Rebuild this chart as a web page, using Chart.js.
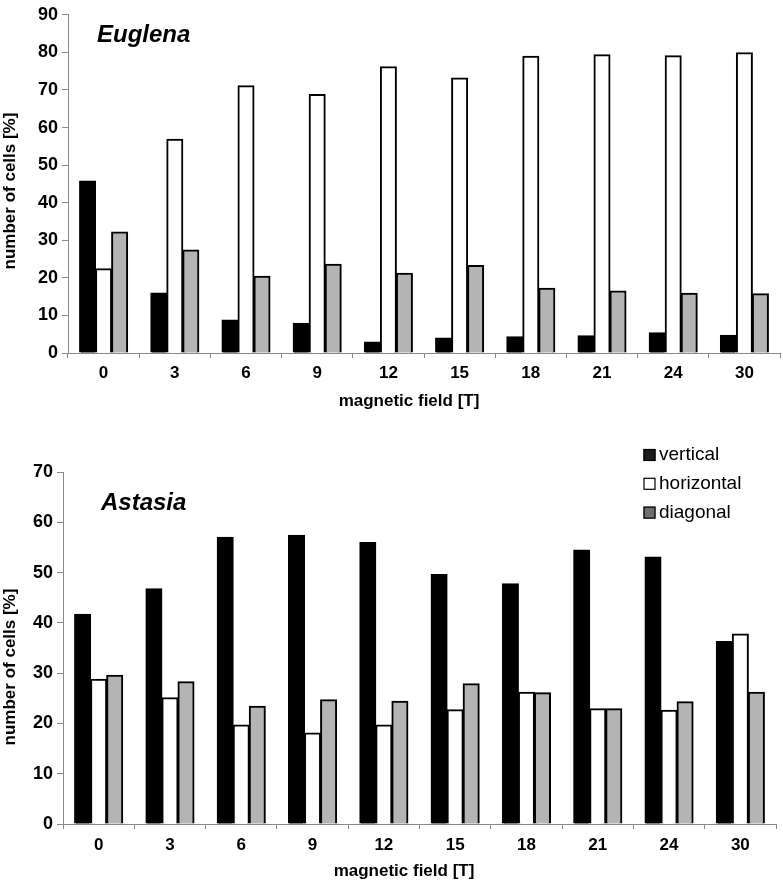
<!DOCTYPE html>
<html>
<head>
<meta charset="utf-8">
<script src="https://cdn.jsdelivr.net/npm/chart.js@4/dist/chart.umd.min.js"></script>
<style>
  html, body { margin: 0; padding: 0; background: #fff; }
  #wrap { position: relative; width: 783px; height: 885px; }
  canvas { position: absolute; left: 0; }
</style>
</head>
<body>
<div id="wrap">
  <canvas id="top" width="783" height="430" style="top:0px"></canvas>
  <canvas id="bot" width="783" height="455" style="top:430px"></canvas>
</div>
<script>
// ---- data ----
const fieldLabels = ['0', '3', '6', '9', '12', '15', '18', '21', '24', '30'];
const seriesNames = ['vertical', 'horizontal', 'diagonal'];

const eugVertical   = [45.8, 16.0, 8.8, 7.9, 2.9, 4.0, 4.3, 4.6, 5.4, 4.7];
const eugHorizontal = [22.4, 56.9, 71.1, 68.8, 76.2, 73.2, 79.0, 79.4, 79.1, 79.9];
const eugDiagonal   = [32.2, 27.4, 20.4, 23.6, 21.2, 23.3, 17.2, 16.5, 15.9, 15.8];

const astVertical   = [41.7, 46.8, 57.0, 57.4, 56.0, 49.6, 47.8, 54.5, 53.1, 36.3];
const astHorizontal = [28.8, 25.1, 19.7, 18.1, 19.7, 22.7, 26.2, 22.9, 22.6, 37.8];
const astDiagonal   = [29.6, 28.3, 23.4, 24.7, 24.4, 27.9, 26.1, 22.9, 24.3, 26.2];

const eugYTicks = [0, 10, 20, 30, 40, 50, 60, 70, 80, 90];
const astYTicks = [0, 10, 20, 30, 40, 50, 60, 70];

const xTitle = 'magnetic field [T]';
const yTitle = 'number of cells [%]';

// ---- styles ----
const FONT = '"Liberation Sans", Arial, Helvetica, sans-serif';
const AXIS = '#8a8a8a';
const fills = ['#000000', '#ffffff', '#b4b4b4'];
const legendFills = ['#1c1c1c', '#ffffff', '#6e6e6e'];

const textPlugin = {
  id: 'extraText',
  afterDraw(chart, args, opts) {
    const ctx = chart.ctx;
    ctx.save();
    ctx.fillStyle = '#000';
    if (opts.title) {
      ctx.font = 'italic bold 24px ' + FONT;
      ctx.textAlign = 'left';
      ctx.textBaseline = 'alphabetic';
      ctx.fillText(opts.title.text, opts.title.x, opts.title.y);
    }
    if (opts.xTitle) {
      ctx.font = 'bold 17px ' + FONT;
      ctx.textAlign = 'center';
      ctx.textBaseline = 'middle';
      ctx.fillText(opts.xTitle.text, opts.xTitle.x, opts.xTitle.y);
    }
    if (opts.yTitle) {
      ctx.save();
      ctx.translate(opts.yTitle.x, opts.yTitle.y);
      ctx.rotate(-Math.PI / 2);
      ctx.font = 'bold 17px ' + FONT;
      ctx.textAlign = 'center';
      ctx.textBaseline = 'middle';
      ctx.fillText(opts.yTitle.text, 0, 0);
      ctx.restore();
    }
    if (opts.legend) {
      const L = opts.legend;
      ctx.font = '19px ' + FONT;
      ctx.textAlign = 'left';
      ctx.textBaseline = 'middle';
      chart.data.datasets.forEach((ds, i) => {
        const cy = L.y + i * L.gap;
        ctx.fillStyle = legendFills[i];
        ctx.fillRect(L.x, cy - L.box / 2, L.box, L.box);
        ctx.strokeStyle = '#000';
        ctx.lineWidth = 1.2;
        ctx.strokeRect(L.x + 0.5, cy - L.box / 2 + 0.5, L.box - 1, L.box - 1);
        ctx.fillStyle = '#000';
        ctx.fillText(ds.label, L.x + L.box + 3.5, cy);
      });
    }
    ctx.restore();
  }
};

function makeDatasets(v, h, d) {
  return [v, h, d].map((vals, i) => ({
    label: seriesNames[i],
    data: vals,
    backgroundColor: fills[i],
    borderColor: '#000',
    borderWidth: 2,
    borderSkipped: 'start',
    inflateAmount: 0.5,
    categoryPercentage: 0.675,
    barPercentage: 1.0
  }));
}

function makeOptions(cfg) {
  return {
    responsive: false,
    animation: false,
    devicePixelRatio: 1,
    layout: { padding: cfg.padding },
    plugins: {
      legend: { display: false },
      tooltip: { enabled: false },
      extraText: cfg.text
    },
    scales: {
      x: {
        grid: { display: true, drawOnChartArea: false, drawTicks: true, tickLength: 5, color: AXIS, offset: true, lineWidth: 1 },
        border: { display: true, color: AXIS, width: 1 },
        ticks: { color: '#000', font: { family: FONT, size: 17, weight: 'bold' }, padding: cfg.xTickPad, maxRotation: 0 },
        title: { display: false },
        afterFit: (s) => { s.height = cfg.xHeight; }
      },
      y: {
        min: 0,
        max: cfg.yTicks[cfg.yTicks.length - 1],
        afterBuildTicks: (s) => { s.ticks = cfg.yTicks.map(v => ({ value: v })); },
        grid: { display: true, drawOnChartArea: false, drawTicks: true, tickLength: 6, color: AXIS, lineWidth: 1 },
        border: { display: true, color: AXIS, width: 1 },
        ticks: { color: '#000', font: { family: FONT, size: 18, weight: 'bold' }, padding: 4 },
        afterFit: (s) => { s.width = cfg.yWidth; }
      }
    }
  };
}

new Chart(document.getElementById('top'), {
  type: 'bar',
  data: { labels: fieldLabels, datasets: makeDatasets(eugVertical, eugHorizontal, eugDiagonal) },
  options: makeOptions({
    padding: { top: 10, right: 3, bottom: 0, left: 0 },
    yWidth: 68, xHeight: 77, xTickPad: 5, yTicks: eugYTicks,
    text: {
      title: { text: 'Euglena', x: 97, y: 42 },
      xTitle: { text: xTitle, x: 409, y: 401 },
      yTitle: { text: yTitle, x: 10, y: 191 }
    }
  }),
  plugins: [textPlugin]
});

new Chart(document.getElementById('bot'), {
  type: 'bar',
  data: { labels: fieldLabels, datasets: makeDatasets(astVertical, astHorizontal, astDiagonal) },
  options: makeOptions({
    padding: { top: 42, right: 7, bottom: 0, left: 0 },
    yWidth: 63, xHeight: 61, xTickPad: 6, yTicks: astYTicks,
    text: {
      title: { text: 'Astasia', x: 101, y: 80 },
      xTitle: { text: xTitle, x: 404, y: 441 },
      yTitle: { text: yTitle, x: 10, y: 237 },
      legend: { x: 643.5, y: 25, gap: 28.8, box: 12 }
    }
  }),
  plugins: [textPlugin]
});
</script>
</body>
</html>
